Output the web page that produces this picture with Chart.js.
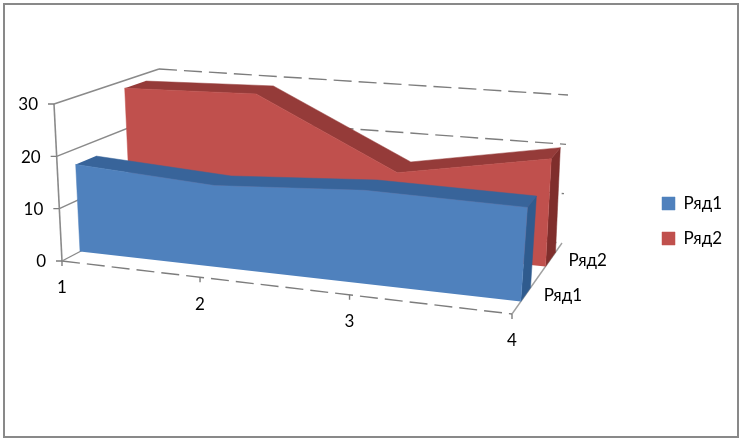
<!DOCTYPE html>
<html>
<head>
<meta charset="utf-8">
<script src="https://cdn.jsdelivr.net/npm/chart.js@4"></script>
<style>
html,body{margin:0;padding:0;background:#fff;}
#wrap{position:relative;width:742px;height:442px;}
</style>
</head>
<body>
<div id="wrap"><canvas id="chart"></canvas></div>
<script>
const categories = ['1','2','3','4'];
const seriesNames = ['Ряд1','Ряд2'];
const seriesValues1 = [17,15.5,17.3,17];
const seriesValues2 = [28.4,29.2,15.6,20.8];
const valueTicks = [0,10,20,30];

// 3D box corners in screen space: [category end][depth end][bottom/top]
const box = {
  fb0:[62,261], fb1:[54,104],
  fe0:[512,314], fe1:[525,144],
  bb0:[165,207], bb1:[159,69],
  be0:[562,243], be1:[568,95]
};
const valueMax = 30;
const persp = 1.13;
const depth1 = [0.175,0.37];
const depth2 = [0.67,0.87];

function lerp(a,b,t){ return a + (b-a)*t; }
function catPos(i){
  const t = i/(categories.length-1);
  return t/(t + persp*(1-t));
}
function project(u,w,v){
  const t = v/valueMax;
  const corner = (k0,k1,n) => lerp(box[k0][n],box[k1][n],t);
  const pt = n => {
    const f = lerp(corner('fb0','fb1',n),corner('fe0','fe1',n),u);
    const b = lerp(corner('bb0','bb1',n),corner('be0','be1',n),u);
    return lerp(f,b,w);
  };
  return {x:pt(0),y:pt(1)};
}

function poly(label,points,color,order){
  return {label,data:points,backgroundColor:color,borderColor:color,borderWidth:0.5,fill:'shape',pointRadius:0,tension:0,order};
}
function wire(a,b,dash,color,width){
  return {label:'',data:[a,b],borderColor:color||'#7d7d7d',borderWidth:width||1.4,borderDash:dash||[],fill:false,pointRadius:0,order:10};
}

function areaSets(name,values,d,cFront,cTop,cSide,baseOrder){
  const last = values.length-1;
  const front = values.map((v,i)=>project(catPos(i),d[0],v));
  const back = values.map((v,i)=>project(catPos(i),d[1],v));
  const frontFace = [project(0,d[0],0),...front,project(1,d[0],0)];
  const topFace = [...front,...back.slice().reverse()];
  const sideFace = [front[last],back[last],project(1,d[1],0),project(1,d[0],0)];
  return {
    main:poly(name,frontFace,cFront,baseOrder),
    rest:[poly('',topFace,cTop,baseOrder+1),poly('',sideFace,cSide,baseOrder+2)]
  };
}

const blue = areaSets(seriesNames[0],seriesValues1,depth1,'#4f81bd','#38649a','#2f5b8e',0);
const red = areaSets(seriesNames[1],seriesValues2,depth2,'#c0504d','#953b39','#7f2e2c',3);

const wires = [];
const dashed = [18,7];
valueTicks.forEach(v=>{
  // left wall
  wires.push(wire(project(0,0,v),project(0,1,v),[],'#8a8a8a'));
  // back wall
  wires.push(wire(project(0,1,v),project(1,1,v),dashed));
  // tick mark
  const p = project(0,0,v);
  wires.push(wire({x:p.x-6,y:p.y},p));
});
wires.push(wire(project(0,0,0),project(0,0,valueMax),[],'#8a8a8a',1.6));
wires.push(wire(project(0,0,0),project(1,0,0),dashed));
wires.push(wire(project(1,0,0),project(1,1,0),[],'#a0a0a0'));
categories.forEach((c,i)=>{
  const p = project(catPos(i),0,0);
  wires.push(wire(p,{x:p.x,y:p.y+5}));
});

// tick labels: offsets from the projected axis positions
const labelPlugin = {
  id:'labels3d',
  beforeDraw(chart){
    const c = chart.ctx;
    c.save();
    c.strokeStyle = '#898989';
    c.lineWidth = 2;
    c.strokeRect(4,4,734,433);
    c.restore();
  },
  afterDraw(chart){
    const c = chart.ctx, sx = chart.scales.x, sy = chart.scales.y;
    c.save();
    c.font = '17px Lato';
    c.fillStyle = '#000';
    c.textBaseline = 'middle';
    c.textAlign = 'right';
    valueTicks.forEach(v=>{
      const p = project(0,0,v);
      c.fillText(String(v),sx.getPixelForValue(p.x)-16,sy.getPixelForValue(p.y)+1);
    });
    c.textAlign = 'center';
    categories.forEach((t,i)=>{
      const p = project(catPos(i),0,0);
      c.fillText(t,sx.getPixelForValue(p.x),sy.getPixelForValue(p.y)+27);
    });
    c.textAlign = 'left';
    seriesNames.forEach((t,i)=>{
      const d = i===0 ? depth1 : depth2;
      const p = project(1,(d[0]+d[1])/2,0);
      c.fillText(t,sx.getPixelForValue(p.x)+18,sy.getPixelForValue(p.y)+1);
    });
    c.restore();
  }
};

new Chart(document.getElementById('chart'),{
  type:'line',
  data:{datasets:[blue.main,red.main,...blue.rest,...red.rest,...wires]},
  plugins:[labelPlugin],
  options:{
    responsive:true,
    maintainAspectRatio:false,
    animation:false,
    layout:{padding:{right:10}},
    scales:{
      x:{type:'linear',display:false,bounds:'data',afterDataLimits:s=>{s.min=0;s.max=s.width;}},
      y:{type:'linear',display:false,reverse:true,min:0,max:442}
    },
    plugins:{
      tooltip:{enabled:false},
      legend:{
        position:'right',
        align:'center',
        labels:{
          filter:item=>item.text!=='',
          boxWidth:13,boxHeight:13,padding:18,color:'#000',
          font:{family:'Lato',size:17}
        }
      }
    }
  }
});
</script>
</body>
</html>
